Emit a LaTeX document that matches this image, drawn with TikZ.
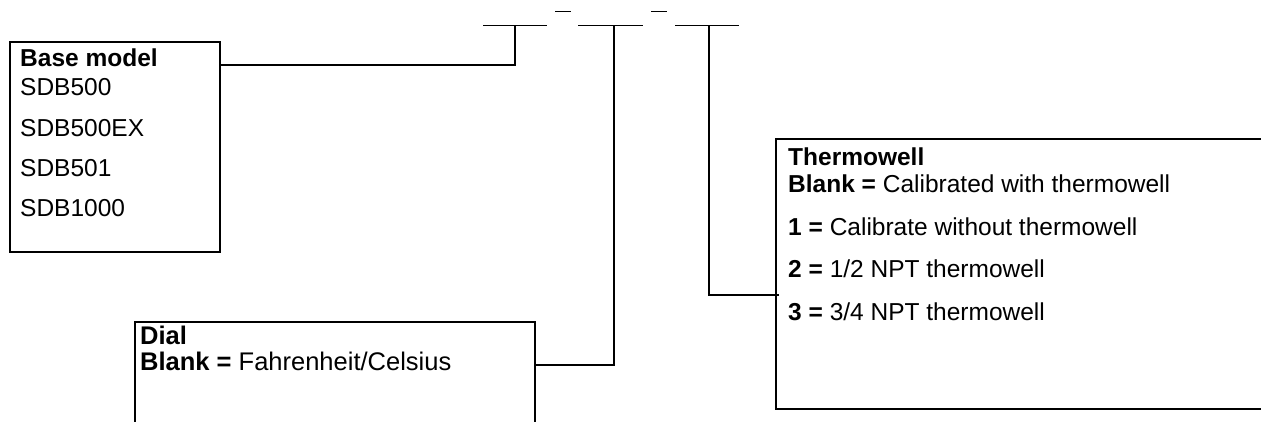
\documentclass[tikz,border=0pt]{standalone}
\usepackage{fontspec}
\setmainfont{Liberation Sans}
\tikzset{
  box/.style={draw, line width=1.6pt, rectangle, anchor=north west, inner sep=0pt},
  txt/.style={anchor=base west, inner sep=0pt, font=\fontsize{24.5}{29}\selectfont},
  link/.style={line width=1.6pt},
  slotline/.style={line width=0.9pt}
}
\begin{document}
\begin{tikzpicture}[x=1pt,y=-1pt]
\useasboundingbox (0,0) rectangle (1261,421);
\clip (0,0) rectangle (1261,421);
% order code slots
\draw[slotline] (483,25) -- (547,25);
\draw[slotline] (555,11) -- (571,11);
\draw[slotline] (578,25) -- (643,25);
\draw[slotline] (651,11) -- (667,11);
\draw[slotline] (675,25) -- (739,25);
\coordinate (slot1) at (515,25);
\coordinate (slot2) at (614,26);
\coordinate (slot3) at (709,26);
% boxes
\node[box, minimum width=210pt, minimum height=210pt] (base) at (9,41) {};
\node[box, minimum width=400pt, minimum height=130pt] (dial) at (134,321) {};
\node[box, minimum width=520pt, minimum height=270pt] (therm) at (775,138) {};
% texts
\node[txt] (basehead) at (20,66) {\textbf{Base model}};
\node[txt] (m1) at (20,95) {SDB500};
\node[txt] (m2) at (20,136) {SDB500EX};
\node[txt] (m3) at (20,176) {SDB501};
\node[txt] (m4) at (20,216) {SDB1000};
\node[txt, font=\fontsize{25.5}{30}\selectfont] (dialhead) at (140,344) {\textbf{Dial}};
\node[txt, font=\fontsize{25.5}{30}\selectfont] (d1) at (140,370) {\textbf{Blank =} Fahrenheit/Celsius};
\node[txt] (thermhead) at (788,165) {\textbf{Thermowell}};
\node[txt] (t0) at (788,192) {\textbf{Blank =} Calibrated with thermowell};
\node[txt] (t1) at (788,235) {\textbf{1 =} Calibrate without thermowell};
\node[txt] (t2) at (788,277) {\textbf{2 =} 1/2 NPT thermowell};
\node[txt] (t3) at (788,320) {\textbf{3 =} 3/4 NPT thermowell};
% connectors
\draw[link] (base.north east) ++(0,24) -| (slot1);
\draw[link] (dial.north east) ++(0,44) -| (slot2);
\draw[link] (therm.north west) ++(4,157) -| (slot3);
\end{tikzpicture}
\end{document}
